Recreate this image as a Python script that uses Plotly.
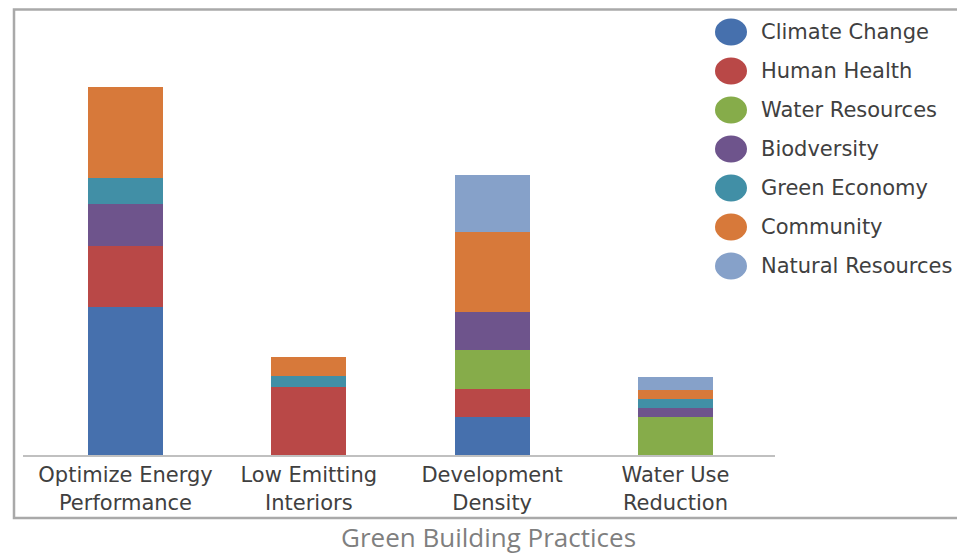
import plotly.graph_objects as go

# Green building practices and the impact categories each one addresses
practices = ["Optimize Energy<br>Performance", "Low Emitting<br>Interiors",
             "Development<br>Density", "Water Use<br>Reduction"]

climate_change = [14.8, 0.0, 3.8, 0.0]
human_health = [6.1, 6.8, 2.8, 0.0]
water_resources = [0.0, 0.0, 3.9, 3.8]
biodiversity = [4.2, 0.0, 3.8, 0.9]
green_economy = [2.6, 1.1, 0.0, 0.9]
community = [9.1, 1.9, 8.0, 0.9]
natural_resources = [0.0, 0.0, 5.7, 1.3]

series_names = ["Climate Change", "Human Health", "Water Resources", "Biodversity",
                "Green Economy", "Community", "Natural Resources"]
series_values = [climate_change, human_health, water_resources, biodiversity,
                 green_economy, community, natural_resources]
series_colors = ["#4670ad", "#b94847", "#86ac4a", "#6e548c",
                 "#418fa6", "#d7793a", "#86a1c9"]

W, H = 957, 554
L, R, T, B = 23, 182, 10, 99
PW, PH = W - L - R, H - T - B


def px_to_paper(px, py):
    return (px - L) / PW, (H - B - py) / PH


fig = go.Figure()
x_pos = list(range(len(practices)))
for name, vals, col in zip(series_names, series_values, series_colors):
    fig.add_trace(go.Bar(
        x=x_pos, y=vals, name=name, width=0.41,
        marker=dict(color=col, line=dict(width=0)),
        showlegend=False,
    ))

shapes = []
annotations = []

# outer frame
fx0, fy0 = px_to_paper(14, 518)
fx1, fy1 = px_to_paper(962, 9.5)
shapes.append(dict(type="rect", xref="paper", yref="paper",
                   x0=fx0, y0=fy0, x1=fx1, y1=fy1,
                   line=dict(color="#a9a9a9", width=2.5), fillcolor="rgba(0,0,0,0)",
                   layer="above"))

# legend with round swatches
for i, (name, col) in enumerate(zip(series_names, series_colors)):
    cy = 32 + 39 * i
    cx_p, cy_p = px_to_paper(731, cy)
    shapes.append(dict(type="circle", xref="paper", yref="paper",
                       xsizemode="pixel", ysizemode="pixel",
                       xanchor=cx_p, yanchor=cy_p,
                       x0=-16, x1=16, y0=-13.5, y1=13.5,
                       fillcolor=col, line=dict(width=0)))
    tx_p, _ = px_to_paper(759, cy)
    annotations.append(dict(xref="paper", yref="paper", x=tx_p, y=cy_p,
                            text=name, showarrow=False, xanchor="left", yanchor="middle",
                            font=dict(family="DejaVu Sans", size=21, color="#404040")))

# chart title under the frame
tx, ty = px_to_paper(488, 537)
annotations.append(dict(xref="paper", yref="paper", x=tx, y=ty,
                        text="Green Building Practices", showarrow=False,
                        xanchor="center", yanchor="middle",
                        font=dict(family="Open Sans", size=26, color="#7f7f7f")))

fig.update_layout(
    width=W, height=H,
    margin=dict(l=L, r=R, t=T, b=B, pad=0),
    barmode="stack",
    bargap=0,
    paper_bgcolor="white", plot_bgcolor="white",
    font=dict(family="DejaVu Sans", size=21, color="#404040"),
    shapes=shapes, annotations=annotations,
    xaxis=dict(range=[-0.559, 3.543], tickmode="array", tickvals=x_pos,
               ticktext=practices, showline=True, linecolor="#c0c0c0", linewidth=2,
               showgrid=False, zeroline=False, ticks="", fixedrange=True),
    yaxis=dict(range=[0, 44.5], visible=False, showgrid=False, zeroline=False),
)

fig.write_html("out.html")
